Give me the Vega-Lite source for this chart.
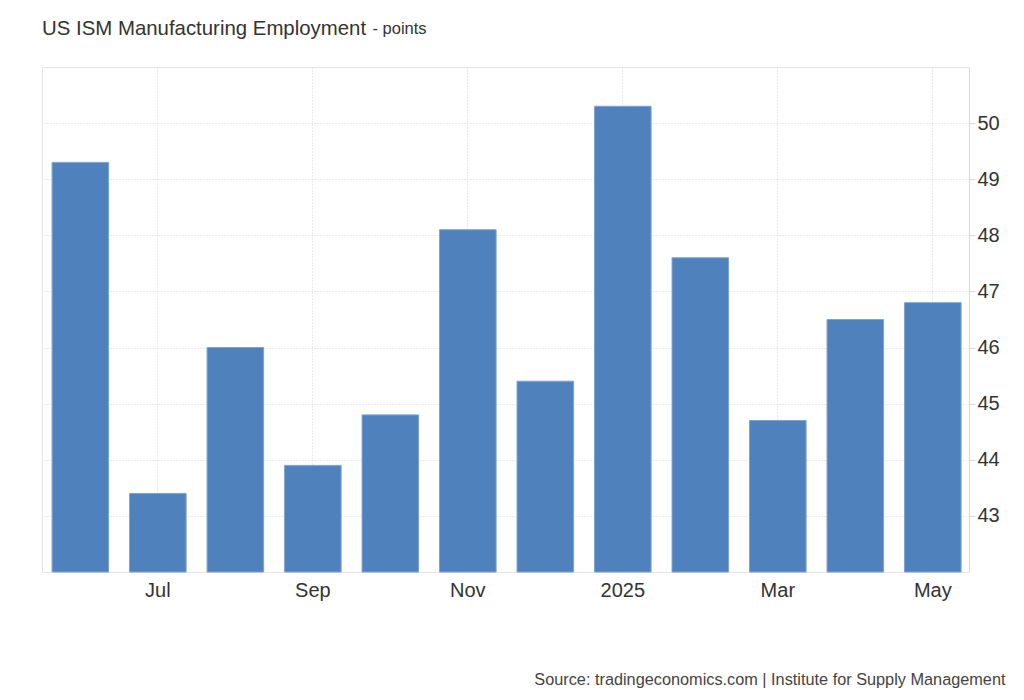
{
  "$schema": "https://vega.github.io/schema/vega-lite/v6.json",
  "autosize": "none",
  "width": 927,
  "height": 505,
  "padding": {"left": 42, "top": 67, "right": 55, "bottom": 128},
  "background": "white",
  "title": {
    "text": "US ISM Manufacturing Employment",
    "anchor": "start",
    "frame": "group",
    "orient": "top",
    "offset": -19,
    "fontSize": 20.4,
    "font": "Liberation Sans",
    "fontWeight": "normal",
    "color": "#333333"
  },
  "config": {
    "view": {"stroke": "#e3e3e3", "strokeWidth": 1},
    "axis": {"gridColor": "#d6d6d6", "gridDash": [1, 2], "gridWidth": 1}
  },
  "data": {
    "values": [
      {"month": "Jun", "value": 49.3},
      {"month": "Jul", "value": 43.4},
      {"month": "Aug", "value": 46.0},
      {"month": "Sep", "value": 43.9},
      {"month": "Oct", "value": 44.8},
      {"month": "Nov", "value": 48.1},
      {"month": "Dec", "value": 45.4},
      {"month": "2025", "value": 50.3},
      {"month": "Feb", "value": 47.6},
      {"month": "Mar", "value": 44.7},
      {"month": "Apr", "value": 46.5},
      {"month": "May", "value": 46.8}
    ]
  },
  "mark": {"type": "bar", "color": "#4f81bd", "stroke": "#7ea3d1", "strokeWidth": 1},
  "encoding": {
    "x": {
      "field": "month",
      "type": "ordinal",
      "sort": null,
      "scale": {"paddingInner": 0.27, "paddingOuter": 0.116, "align": 0.56},
      "axis": {
        "values": ["Jul", "Sep", "Nov", "2025", "Mar", "May"],
        "bandPosition": 0.5,
        "labelAngle": 0,
        "ticks": false,
        "grid": true,
        "domain": true,
        "domainColor": "#e3e3e3",
        "labelFont": "Liberation Sans",
        "labelFontSize": 20,
        "labelColor": "#333333",
        "labelPadding": 8,
        "title": "Source: tradingeconomics.com | Institute for Supply Management",
        "titleFont": "Liberation Sans",
        "titleFontSize": 16.3,
        "titleFontWeight": "normal",
        "titleColor": "#444444",
        "titleAlign": "right",
        "titleBaseline": "middle",
        "titleX": 963,
        "titleY": 107
      }
    },
    "y": {
      "field": "value",
      "type": "quantitative",
      "scale": {"domain": [42, 51], "nice": false, "zero": false},
      "axis": {
        "orient": "right",
        "values": [43, 44, 45, 46, 47, 48, 49, 50],
        "title": "- points",
        "titleAngle": 0,
        "titleX": -597,
        "titleY": -39,
        "titleAlign": "left",
        "titleBaseline": "middle",
        "titleFont": "Liberation Sans",
        "titleFontSize": 16.5,
        "titleFontWeight": "normal",
        "titleColor": "#333333",
        "grid": true,
        "domain": true,
        "domainColor": "#d8d8d8",
        "tickColor": "#d8d8d8",
        "tickSize": 6,
        "labelFont": "Liberation Sans",
        "labelFontSize": 20,
        "labelColor": "#333333",
        "labelPadding": 2
      }
    },
    "y2": {"datum": 42}
  }
}
